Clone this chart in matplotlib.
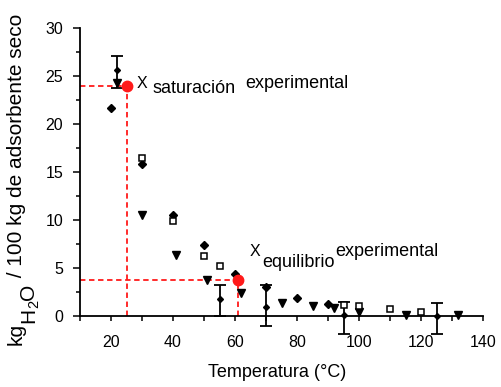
import matplotlib
matplotlib.use('Agg')
import matplotlib.pyplot as plt
from matplotlib.ticker import MultipleLocator

plt.rcParams['font.family'] = ['Liberation Sans', 'DejaVu Sans']

# filled diamonds
dia_t = [20, 30, 40, 50, 60, 70, 80, 90]
dia_x = [21.7, 15.8, 10.5, 7.4, 4.4, 3.05, 1.85, 1.25]
# filled down triangles
tri_t = [22, 30, 41, 51, 62, 75, 85, 92, 100, 115, 132]
tri_x = [24.3, 10.5, 6.4, 3.75, 2.4, 1.4, 1.05, 0.8, 0.45, 0.1, 0.1]
# open squares
sq_t = [30, 40, 50, 55, 95, 100, 110, 120]
sq_x = [16.5, 9.9, 6.3, 5.2, 1.15, 1.0, 0.7, 0.45]
# points with error bars
eb_t = [22, 55, 70, 95, 125]
eb_x = [25.6, 1.75, 0.9, 0.1, 0.0]
eb_lo = [1.85, 1.75, 1.95, 2.0, 1.9]
eb_hi = [1.5, 1.5, 2.3, 1.4, 1.4]
# highlighted values (saturation, equilibrium)
red_t = [25, 61]
red_x = [24.0, 3.7]

W, H = 501, 387
fig = plt.figure(figsize=(W / 100, H / 100), dpi=100)
ax = fig.add_axes([80 / W, 1 - 316 / H, 403 / W, 288 / H])

red = '#ff1a1a'
dash = (0, (3, 2))
for t, x in zip(red_t, red_x):
    ax.plot([10, t], [x, x], color=red, lw=1.3, ls=dash, clip_on=False, zorder=2)
    ax.plot([t, t], [0, x], color=red, lw=1.3, ls=dash, clip_on=False, zorder=2)

ax.errorbar(eb_t, eb_x, yerr=[eb_lo, eb_hi], fmt='D', color='black', ms=3,
            elinewidth=1.3, capsize=4, capthick=1.3, clip_on=False, zorder=3)
ax.plot(dia_t, dia_x, 'D', color='black', ms=4.5, clip_on=False, zorder=3)
ax.plot(tri_t, tri_x, 'v', color='black', ms=6, clip_on=False, zorder=3)
ax.plot(sq_t, sq_x, 's', mfc='white', mec='black', mew=1.1, ms=4, clip_on=False, zorder=3)
ax.plot(red_t, red_x, 'o', color=red, ms=7.5, clip_on=False, zorder=4)

ax.set_xlim(10, 140)
ax.set_ylim(0, 30)
ax.spines['top'].set_visible(False)
ax.spines['right'].set_visible(False)
ax.spines['left'].set_linewidth(1.3)
ax.spines['bottom'].set_linewidth(1.3)
ax.xaxis.set_major_locator(MultipleLocator(20))
ax.xaxis.set_minor_locator(MultipleLocator(10))
ax.yaxis.set_major_locator(MultipleLocator(5))
ax.yaxis.set_minor_locator(MultipleLocator(2.5))
ax.tick_params(axis='x', which='both', length=3.5, width=1.1, pad=10, labelsize=11.5)
ax.tick_params(axis='y', which='major', length=5, width=1.1, pad=7, labelsize=11.5)
ax.tick_params(axis='y', which='minor', length=3, width=1.1)

ax.set_xlabel('Temperatura (°C)', fontsize=13)
ax.xaxis.set_label_coords(0.49, -0.165)

# annotations
kw = dict(ha='left', va='baseline', clip_on=False)
ax.text(28.4, 23.8, 'X', fontsize=11.5, **kw)
ax.text(33.5, 23.2, 'saturación', fontsize=13, **kw)
ax.text(63.2, 23.7, 'experimental', fontsize=13, **kw)
ax.text(64.8, 6.25, 'X', fontsize=11.5, **kw)
ax.text(68.7, 5.14, 'equilibrio', fontsize=13, **kw)
ax.text(92.3, 6.3, 'experimental', fontsize=13, **kw)

# y label built piece by piece (subscripted H2O)
renderer = fig.canvas.get_renderer()
pieces = [('kg', 22, 15), ('H', 34, 15), ('2', 38, 10.5), ('O', 34, 15),
          (' / 100 kg de adsorbente seco', 22, 15)]
y = 345
for s, base, size in pieces:
    t = fig.text(base / W, 1 - y / H, s, rotation=90, rotation_mode='anchor',
                 ha='left', va='baseline', fontsize=size)
    y -= t.get_window_extent(renderer).height

fig.savefig('out.png', dpi=100)
